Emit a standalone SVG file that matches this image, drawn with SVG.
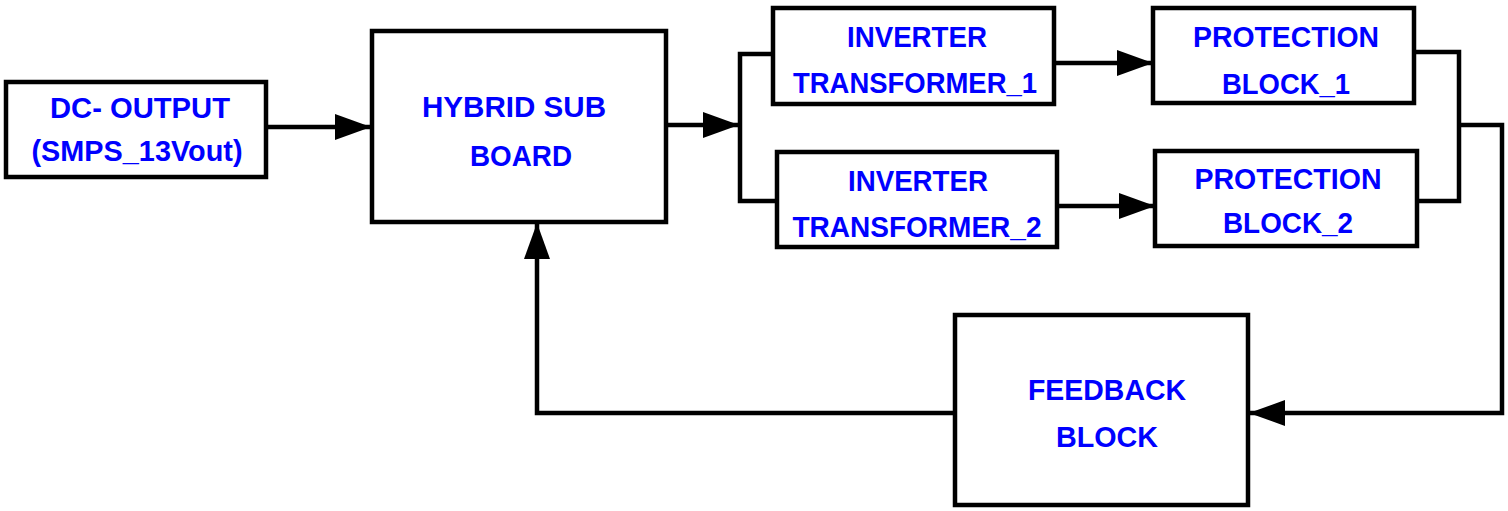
<svg xmlns="http://www.w3.org/2000/svg" width="1508" height="511" viewBox="0 0 1508 511">
<style>
.box{fill:#fff;stroke:#000;stroke-width:4.5}
.lbl{font-family:"Liberation Sans",Arial,sans-serif;font-weight:bold;font-size:29px;fill:#0000ff;text-anchor:middle}
.wire{fill:none;stroke:#000;stroke-width:4.5}
</style>
<defs>
<marker id="ah" markerUnits="userSpaceOnUse" markerWidth="38" markerHeight="28" refX="36" refY="13" orient="auto">
<path d="M0,0 L36,13 L0,26 z" fill="#000"/>
</marker>
</defs>
<rect width="1508" height="511" fill="#fff"/>
<g id="connectors">
<path class="wire" d="M266,127 H371" marker-end="url(#ah)"/>
<path class="wire" d="M666,125 H739" marker-end="url(#ah)"/>
<path class="wire" d="M773,54 H740 V201 H777"/>
<path class="wire" d="M1054,63 H1153" marker-end="url(#ah)"/>
<path class="wire" d="M1057,206 H1155" marker-end="url(#ah)"/>
<path class="wire" d="M1414,52 H1459 V201 H1417"/>
<path class="wire" d="M1459,125 H1502 V413 H1249" marker-end="url(#ah)"/>
<path class="wire" d="M955,413 H537 V223" marker-end="url(#ah)"/>
</g>
<g id="dc-output">
<rect class="box" x="6" y="82" width="260" height="95"/>
<text class="lbl" x="140" y="118" textLength="180" lengthAdjust="spacingAndGlyphs">DC- OUTPUT</text>
<text class="lbl" x="137" y="161" textLength="211" lengthAdjust="spacingAndGlyphs">(SMPS_13Vout)</text>
</g>
<g id="hybrid">
<rect class="box" x="372" y="31" width="294" height="191"/>
<text class="lbl" x="514" y="117" font-size="30" textLength="184" lengthAdjust="spacingAndGlyphs">HYBRID  SUB</text>
<text class="lbl" x="521" y="166" font-size="30" textLength="102" lengthAdjust="spacingAndGlyphs">BOARD</text>
</g>
<g id="inverter1">
<rect class="box" x="773" y="8" width="281" height="96"/>
<text class="lbl" x="917" y="47" textLength="140" lengthAdjust="spacingAndGlyphs">INVERTER</text>
<text class="lbl" x="915" y="93" textLength="244" lengthAdjust="spacingAndGlyphs">TRANSFORMER_1</text>
</g>
<g id="inverter2">
<rect class="box" x="777" y="152" width="280" height="95"/>
<text class="lbl" x="918" y="191" textLength="140" lengthAdjust="spacingAndGlyphs">INVERTER</text>
<text class="lbl" x="917" y="237" textLength="249" lengthAdjust="spacingAndGlyphs">TRANSFORMER_2</text>
</g>
<g id="protection1">
<rect class="box" x="1153" y="8" width="261" height="95"/>
<text class="lbl" x="1286" y="47" textLength="186" lengthAdjust="spacingAndGlyphs">PROTECTION</text>
<text class="lbl" x="1286" y="94" textLength="128" lengthAdjust="spacingAndGlyphs">BLOCK_1</text>
</g>
<g id="protection2">
<rect class="box" x="1155" y="151" width="262" height="95"/>
<text class="lbl" x="1288" y="189" textLength="187" lengthAdjust="spacingAndGlyphs">PROTECTION</text>
<text class="lbl" x="1288" y="233" textLength="130" lengthAdjust="spacingAndGlyphs">BLOCK_2</text>
</g>
<g id="feedback">
<rect class="box" x="955" y="315" width="293" height="190"/>
<text class="lbl" x="1107" y="400" font-size="30" textLength="158" lengthAdjust="spacingAndGlyphs">FEEDBACK</text>
<text class="lbl" x="1107" y="447" font-size="30" textLength="102" lengthAdjust="spacingAndGlyphs">BLOCK</text>
</g>
</svg>
